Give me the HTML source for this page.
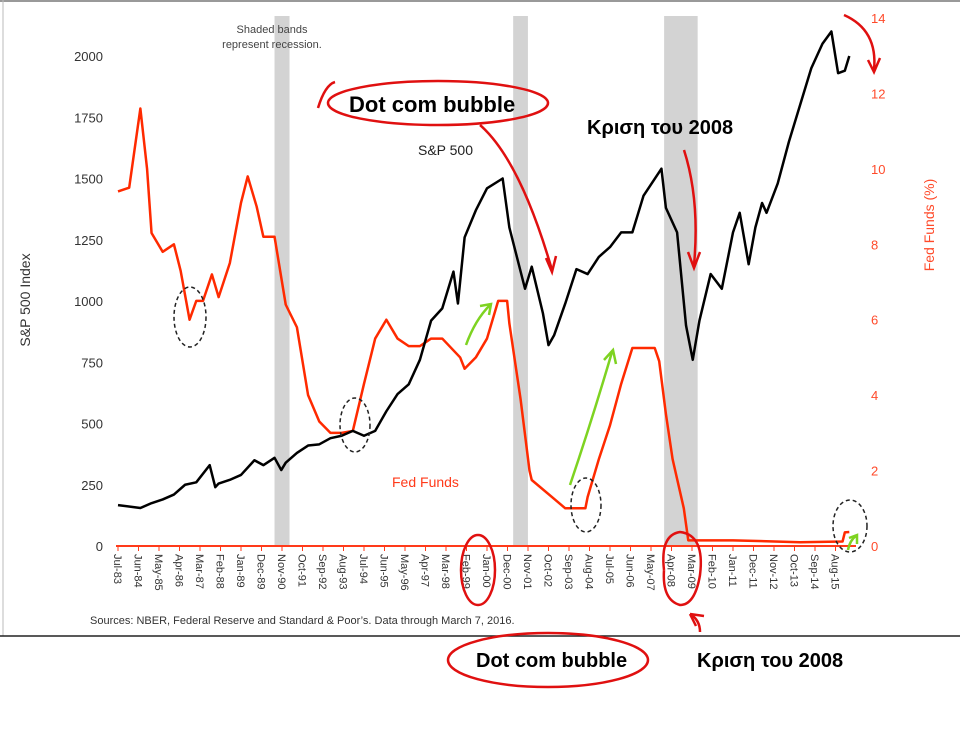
<!DOCTYPE html>
<html><head><meta charset="utf-8"><style>
body{margin:0;background:#fff;}
svg{display:block;font-family:"Liberation Sans","DejaVu Sans",sans-serif;}
</style></head><body>
<svg id="chart" width="960" height="729" viewBox="0 0 960 729">
<rect x="0" y="0" width="960" height="729" fill="#fff"/>
<line x1="0" y1="1" x2="960" y2="1" stroke="#999" stroke-width="2"/>
<line x1="3" y1="0" x2="3" y2="636" stroke="#bbb" stroke-width="1"/>
<g id="bands"></g>
<g id="axes"></g>
<g id="series"></g>
<text x="272" y="33" font-size="11" fill="#444" text-anchor="middle">Shaded bands</text>
<text x="272" y="48" font-size="11" fill="#444" text-anchor="middle">represent recession.</text>
<text x="30" y="300" font-size="14" fill="#333" transform="rotate(-90 30 300)" text-anchor="middle">S&amp;P 500 Index</text>
<text x="934" y="225" font-size="14" fill="#ff4a2a" transform="rotate(-90 934 225)" text-anchor="middle">Fed Funds (%)</text>
<text x="418" y="155" font-size="14" fill="#222">S&amp;P 500</text>
<text x="392" y="487" font-size="14" fill="#ff3a1a">Fed Funds</text>
<text x="90" y="624" font-size="11" fill="#333">Sources: NBER, Federal Reserve and Standard &amp; Poor’s. Data through March 7, 2016.</text>
<line x1="0" y1="636" x2="960" y2="636" stroke="#222" stroke-width="1.5"/>
<!-- annotations -->
<g fill="none" stroke="#e01010" stroke-width="2.5">
<ellipse cx="438" cy="103" rx="110" ry="22"/>
<path d="M318 108 Q325 85 335 82"/>
<path d="M480 125 Q520 160 552 270"/>
<path d="M546 258 L552 272 L556 256"/>
<path d="M684 150 Q700 200 694 265"/>
<path d="M688 252 L694 268 L700 252"/>
<path d="M844 15 Q878 30 874 70"/>
<path d="M868 60 L874 72 L880 58"/>
<ellipse cx="478" cy="570" rx="17" ry="35"/>
<path d="M664 570 Q660 535 680 532 Q705 535 700 575 Q695 605 680 605 Q662 600 664 570"/>
<path d="M700 632 Q700 620 690 614"/>
<path d="M690 614 L704 616 M690 614 L696 626"/>
<ellipse cx="548" cy="660" rx="100" ry="27"/>
</g>
<g fill="none" stroke="#222" stroke-width="1.5" stroke-dasharray="4 3">
<ellipse cx="190" cy="317" rx="16" ry="30"/>
<ellipse cx="355" cy="425" rx="15" ry="27"/>
<ellipse cx="586" cy="505" rx="15" ry="27"/>
<ellipse cx="850" cy="526" rx="17" ry="26"/>
</g>
<g fill="none" stroke="#7ed321" stroke-width="2.5">
<path d="M466 345 Q475 320 490 305"/><path d="M480 306 L491 304 L489 315"/>
<path d="M570 485 Q592 420 612 352"/><path d="M604 360 L613 350 L616 364"/>
<path d="M848 550 Q850 540 856 536"/><path d="M849 538 L857 535 L857 544"/>
</g>
<text x="349" y="112" font-size="22" font-weight="bold" fill="#000">Dot com bubble</text>
<text x="587" y="134" font-size="20" font-weight="bold" fill="#000">Κριση του 2008</text>
<text x="476" y="667" font-size="20" font-weight="bold" fill="#000">Dot com bubble</text>
<text x="697" y="667" font-size="20" font-weight="bold" fill="#000">Κριση του 2008</text>
</svg>
<script>
const tickLabels=["Jul-83","Jun-84","May-85","Apr-86","Mar-87","Feb-88","Jan-89","Dec-89","Nov-90","Oct-91","Sep-92","Aug-93","Jul-94","Jun-95","May-96","Apr-97","Mar-98","Feb-99","Jan-00","Dec-00","Nov-01","Oct-02","Sep-03","Aug-04","Jul-05","Jun-06","May-07","Apr-08","Mar-09","Feb-10","Jan-11","Dec-11","Nov-12","Oct-13","Sep-14","Aug-15"];
const leftTicks=[0,250,500,750,1000,1250,1500,1750,2000];
const rightTicks=[0,2,4,6,8,10,12,14];
const recessions=[[1990.5,1991.17],[2001.17,2001.83],[2007.92,2009.42]];
const spDates=[1983.5,1984.5,1985,1985.5,1986,1986.5,1987,1987.6,1987.85,1988,1988.5,1989,1989.6,1990,1990.5,1990.8,1991,1991.5,1992,1992.5,1993,1993.5,1994,1994.5,1995,1995.5,1996,1996.5,1997,1997.5,1998,1998.5,1998.7,1999,1999.5,2000,2000.7,2001,2001.7,2002,2002.5,2002.75,2003,2003.5,2004,2004.5,2005,2005.5,2006,2006.5,2007,2007.8,2008,2008.5,2008.9,2009.2,2009.5,2010,2010.5,2011,2011.3,2011.7,2012,2012.3,2012.5,2013,2013.5,2014,2014.5,2015,2015.4,2015.7,2016,2016.2];
const spValues=[167,155,175,190,210,250,260,330,240,255,270,290,350,330,360,310,340,380,410,415,440,450,470,450,470,550,620,660,760,920,970,1120,990,1260,1370,1460,1500,1300,1050,1140,950,820,860,990,1130,1110,1180,1220,1280,1280,1430,1540,1380,1280,900,760,920,1110,1050,1280,1360,1150,1300,1400,1360,1480,1650,1800,1950,2050,2100,1930,1940,2000];
const ffDates=[1983.5,1984,1984.5,1984.8,1985,1985.5,1986,1986.3,1986.7,1987,1987.3,1987.7,1988,1988.5,1989,1989.3,1989.7,1990,1990.5,1991,1991.5,1992,1992.5,1993,1993.5,1994,1994.5,1995,1995.5,1996,1996.5,1997,1997.5,1998,1998.8,1999,1999.5,2000,2000.5,2000.9,2001,2001.5,2001.9,2002,2002.9,2003.5,2004.4,2004.5,2005,2005.5,2006,2006.5,2007.5,2007.7,2008,2008.3,2008.8,2009,2011,2014,2015.9,2016,2016.2];
const ffValues=[9.4,9.5,11.6,10,8.3,7.8,8.0,7.3,6.0,6.5,6.5,7.2,6.6,7.5,9.1,9.8,9.0,8.2,8.2,6.4,5.8,4.0,3.3,3.0,3.0,3.05,4.3,5.5,6.0,5.5,5.3,5.3,5.5,5.5,5.0,4.7,5.0,5.5,6.5,6.5,5.9,3.9,2.0,1.75,1.3,1.0,1.0,1.3,2.3,3.2,4.3,5.25,5.25,4.9,3.5,2.3,1.0,0.15,0.15,0.1,0.12,0.36,0.37];
const NS="http://www.w3.org/2000/svg";
const x=d=>118+(d-1983.5)*12*20.5/11;
const yL=v=>546-v*0.245;
const yR=v=>546-v*(528/14);
function mk(tag,attrs,parent){const e=document.createElementNS(NS,tag);for(const k in attrs)e.setAttribute(k,attrs[k]);parent.appendChild(e);return e;}
const bands=document.getElementById('bands'),axes=document.getElementById('axes'),series=document.getElementById('series');
recessions.forEach(r=>{
  const e=mk('rect',{x:x(r[0]),y:16,width:x(r[1])-x(r[0]),height:530,fill:'#d3d3d3'},bands);
  
  
});
const ax=mk('line',{x1:116,y1:546,x2:856,y2:546,stroke:'#ff3a1a','stroke-width':2},axes);


tickLabels.forEach((t,i)=>{
  const px=118+i*20.5;
  const tk=mk('line',{x1:px,y1:546,x2:px,y2:551,stroke:'#ff3a1a','stroke-width':1},axes);
  
  
  const tx=mk('text',{x:px-4,y:554,'font-size':11,fill:'#333',transform:`rotate(90 ${px-4} 554)`},axes);
  tx.textContent=t;
  
  
});
leftTicks.forEach(v=>{
  const t=mk('text',{x:103,y:yL(v)+5,'font-size':13,fill:'#333','text-anchor':'end'},axes);
  t.textContent=v;
  
  
});
rightTicks.forEach(v=>{
  const t=mk('text',{x:871,y:yR(v)+5,'font-size':13,fill:'#ff4a2a'},axes);
  t.textContent=v;
  
  
});
const ff=mk('polyline',{points:ffDates.map((d,i)=>x(d)+','+yR(ffValues[i])).join(' '),fill:'none',stroke:'#ff2a00','stroke-width':2.5,'stroke-linejoin':'round'},series);


const sp=mk('polyline',{points:spDates.map((d,i)=>x(d)+','+yL(spValues[i])).join(' '),fill:'none',stroke:'#000','stroke-width':2.5,'stroke-linejoin':'round'},series);


</script>
</body></html>
